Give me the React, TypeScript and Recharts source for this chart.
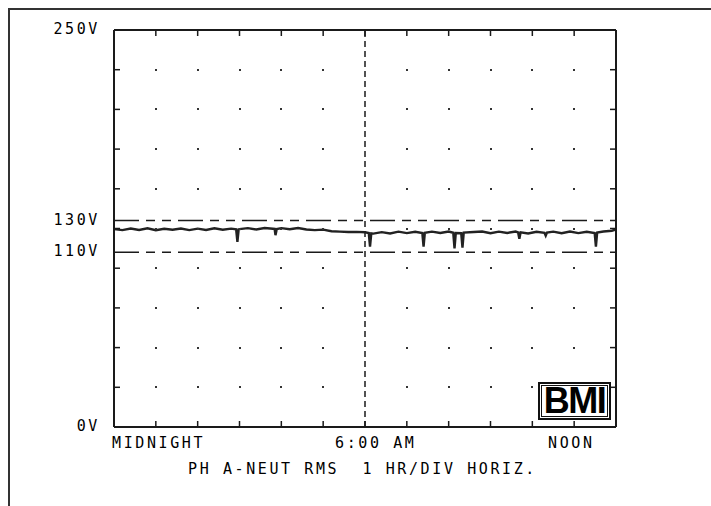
import React from 'react';
import { LineChart, Line, XAxis, YAxis, ReferenceLine, ReferenceDot } from 'recharts';

// trace: hours after midnight -> volts RMS
const hours = [
  0, 0.2, 0.4, 0.6, 0.8, 1.0, 1.2, 1.4, 1.6, 1.8, 2.0, 2.2, 2.4, 2.6, 2.8,
  2.92, 2.95, 2.98, 3.0, 3.2, 3.4, 3.6, 3.8, 3.84, 3.86, 3.89, 4.0, 4.2, 4.4,
  4.6, 4.8, 5.0, 5.2, 5.4, 5.6, 5.8, 6.0, 6.09, 6.12, 6.15, 6.2, 6.4, 6.6, 6.8,
  7.0, 7.2, 7.37, 7.4, 7.43, 7.6, 7.8, 8.0, 8.11, 8.14, 8.17, 8.3, 8.33, 8.36,
  8.6, 8.8, 9.0, 9.2, 9.4, 9.6, 9.66, 9.69, 9.72, 9.9, 10.1, 10.29, 10.32,
  10.35, 10.5, 10.7, 10.9, 11.1, 11.3, 11.49, 11.52, 11.55, 11.7, 11.9, 12.0,
];
const volts = [
  124.6, 124.0, 125.0, 124.1, 125.1, 123.9, 124.8, 124.2, 125.0, 124.0, 124.9, 124.1, 125.1, 124.2, 124.9,
  124.5, 116.5, 124.4, 124.6, 125.2, 124.4, 125.3, 124.8, 124.7, 120.8, 124.6, 125.2, 124.5, 125.3,
  124.4, 124.0, 124.3, 123.3, 123.0, 122.8, 122.9, 122.6, 122.2, 113.5, 122.0, 121.8, 122.7, 121.9, 123.0,
  122.1, 122.9, 122.2, 113.5, 122.3, 123.0, 122.2, 123.1, 122.3, 112.5, 122.1, 122.0, 113.0, 122.4,
  122.8, 123.1, 122.0, 123.0, 122.2, 123.1, 122.5, 118.5, 122.6, 121.9, 122.9, 122.3, 120.5,
  122.4, 123.0, 122.0, 123.1, 122.1, 122.9, 122.2, 113.5, 122.5, 123.1, 123.6, 124.3,
];

const hourTicks = [0, 1, 2, 3, 4, 5, 6, 7, 8, 9, 10, 11, 12];
const voltTicks = [0, 25, 50, 75, 100, 125, 150, 175, 200, 225, 250];
const voltLabels = [0, 110, 130, 250];
const timeNames: Record<number, string> = { 0: 'MIDNIGHT', 6: '6:00 AM', 12: 'NOON' };
const limitLines = [110, 130];
const markerHour = 6;
const title = 'PH A-NEUT RMS  1 HR/DIV HORIZ.';

const X_MAX = 12;
const Y_MAX = 250;

const data = hours.map((h, i) => ({ h, v: volts[i] }));
const gridDots = hourTicks
  .slice(1, -1)
  .filter((h) => h !== markerHour)
  .flatMap((h) => voltTicks.slice(1, -1).map((v) => ({ h, v })));

const INK = '#1a1a1a';
const MONO = '"DejaVu Sans Mono", "Liberation Mono", monospace';
const monoText = { fontFamily: MONO, fontSize: 15, letterSpacing: 2.6, fill: '#000' };

const timeShift: Record<number, number> = { 0: -2, 6: -30, 12: -68 };

// bottom axis carries a tick every hour but only names three of them
const TimeTick = ({ x, y, payload }: any) =>
  timeNames[payload.value] ? (
    <text x={x + timeShift[payload.value]} y={y + 14} textAnchor="start" {...monoText}>
      {timeNames[payload.value]}
    </text>
  ) : (
    <g />
  );

const VoltTick = ({ x, y, payload }: any) => (
  <text x={x} y={y + 4} textAnchor="end" {...monoText}>
    {payload.value}V
  </text>
);

const TitleLabel = ({ viewBox }: any) => (
  <text x={viewBox.x + 74} y={viewBox.y + 47} style={{ whiteSpace: 'pre' }} {...monoText}>
    {title}
  </text>
);

const blank = () => <g />;
const edge = { stroke: INK, strokeWidth: 2 };
const tickMark = { stroke: INK, strokeWidth: 1.5 };
const dotShape = (p: any) => (
  <rect x={Math.round(p.cx) - 1} y={Math.round(p.cy) - 1} width={2} height={2} fill="#333" />
);

export default function App() {
  return (
    <div style={{ position: 'absolute', left: 0, top: 0, width: 711, height: 506, overflow: 'hidden', background: '#fff' }}>
      <div
        style={{
          position: 'absolute', left: 8, top: 8, width: 800, height: 600,
          borderLeft: '2px solid #333', borderTop: '2px solid #333',
        }}
      />
      <LineChart
        width={711}
        height={506}
        data={data}
        margin={{ top: 29, right: 94, bottom: 78, left: 113 }}
        style={{ position: 'absolute', left: 0, top: 0 }}
      >
        <XAxis
          xAxisId="bottom" dataKey="h" type="number" domain={[0, X_MAX]} ticks={hourTicks} allowDataOverflow
          orientation="bottom" height={1} mirror tick={false} axisLine={edge} tickLine={false}
        />
        <XAxis
          xAxisId="labels" dataKey="h" type="number" domain={[0, X_MAX]} ticks={hourTicks} allowDataOverflow
          orientation="bottom" height={1} tickSize={-6} tickMargin={13} tick={TimeTick} interval={0}
          axisLine={false} tickLine={tickMark} label={<TitleLabel />}
        />
        <XAxis
          xAxisId="top" dataKey="h" type="number" domain={[0, X_MAX]} ticks={hourTicks} allowDataOverflow
          orientation="top" height={1} tickSize={-6} tick={blank} interval={0}
          axisLine={edge} tickLine={tickMark}
        />
        <YAxis
          yAxisId="left" type="number" domain={[0, Y_MAX]} ticks={voltTicks} allowDataOverflow
          orientation="left" width={1} mirror tickSize={6} tick={blank} interval={0}
          axisLine={edge} tickLine={tickMark}
        />
        <YAxis
          yAxisId="right" type="number" domain={[0, Y_MAX]} ticks={voltTicks} allowDataOverflow
          orientation="right" width={1} tickSize={-6} tick={blank} interval={0}
          axisLine={edge} tickLine={tickMark}
        />
        <YAxis
          yAxisId="labels" type="number" domain={[0, Y_MAX]} ticks={voltLabels} allowDataOverflow
          orientation="left" width={1} tickSize={6} tickMargin={8} tick={VoltTick} interval={0}
          axisLine={false} tickLine={false}
        />

        {gridDots.map((d) => (
          <ReferenceDot
            key={`${d.h}-${d.v}`}
            xAxisId="bottom"
            yAxisId="left"
            x={d.h}
            y={d.v}
            r={1}
            shape={dotShape}
          />
        ))}

        {limitLines.map((v) => (
          <ReferenceLine
            key={v}
            xAxisId="bottom"
            yAxisId="left"
            y={v}
            stroke={INK}
            strokeWidth={1.5}
            strokeDasharray="25 7 9 7 9 7"
          />
        ))}
        <ReferenceLine
          xAxisId="bottom"
          yAxisId="left"
          x={markerHour}
          stroke={INK}
          strokeWidth={1.5}
          strokeDasharray="6 4"
        />

        <Line
          xAxisId="bottom"
          yAxisId="left"
          dataKey="v"
          type="linear"
          stroke="#222"
          strokeWidth={2.4}
          dot={false}
          isAnimationActive={false}
        />
      </LineChart>

      <div
        style={{
          position: 'absolute', left: 538, top: 382, width: 73, height: 38, boxSizing: 'border-box',
          border: '2px solid #111', padding: 1, background: '#fff',
        }}
      >
        <div
          style={{
            width: '100%', height: '100%', boxSizing: 'border-box', border: '1px solid #111',
            display: 'flex', alignItems: 'center', justifyContent: 'center',
            fontFamily: '"Liberation Sans", Arial, sans-serif', fontWeight: 700, fontSize: 36,
            letterSpacing: -1.5, lineHeight: 1, color: '#000',
          }}
        >
          BMI
        </div>
      </div>
    </div>
  );
}
